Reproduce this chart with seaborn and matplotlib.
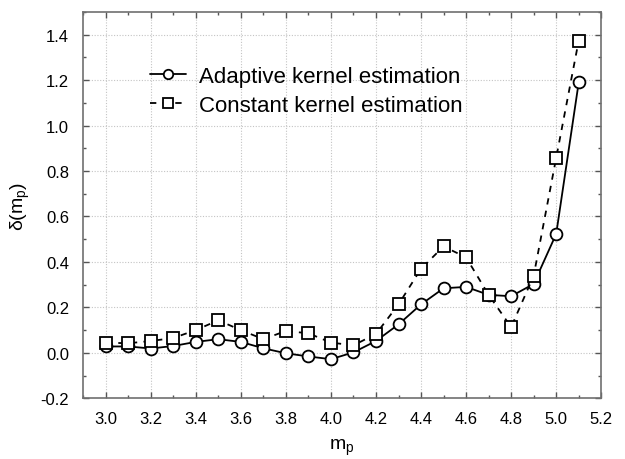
import matplotlib
matplotlib.use("Agg")
import matplotlib.pyplot as plt
from matplotlib.ticker import MultipleLocator, FormatStrFormatter
import seaborn as sns
import pandas as pd

m_p = [3.0, 3.1, 3.2, 3.3, 3.4, 3.5, 3.6, 3.7, 3.8, 3.9, 4.0,
       4.1, 4.2, 4.3, 4.4, 4.5, 4.6, 4.7, 4.8, 4.9, 5.0, 5.1]
adaptive = [0.028, 0.028, 0.019, 0.030, 0.048, 0.060, 0.048, 0.020, -0.002, -0.016, -0.028,
            0.002, 0.052, 0.125, 0.213, 0.284, 0.290, 0.255, 0.249, 0.303, 0.523, 1.190]
constant = [0.045, 0.042, 0.052, 0.065, 0.100, 0.143, 0.100, 0.060, 0.096, 0.086, 0.045,
            0.033, 0.083, 0.213, 0.370, 0.468, 0.420, 0.255, 0.113, 0.339, 0.858, 1.374]
labels = ["Adaptive kernel estimation", "Constant kernel estimation"]

sns.set_style("ticks")
plt.rcParams["font.family"] = ["Liberation Sans", "DejaVu Sans"]
plt.rcParams["mathtext.default"] = "regular"
plt.rcParams["text.color"] = "black"
plt.rcParams["axes.labelcolor"] = "black"
plt.rcParams["xtick.labelcolor"] = "black"
plt.rcParams["ytick.labelcolor"] = "black"

fig = plt.figure(figsize=(6.25, 4.6), dpi=100)
ax = fig.add_axes([0.133, 0.132, 0.829, 0.840])

df_a = pd.DataFrame({"m": m_p, "d": adaptive})
df_c = pd.DataFrame({"m": m_p, "d": constant})

sns.lineplot(data=df_a, x="m", y="d", ax=ax, color="black", lw=1.3,
             marker="o", markersize=8.5, markerfacecolor="white",
             markeredgecolor="black", markeredgewidth=1.3, label=labels[0], zorder=3)
sns.lineplot(data=df_c, x="m", y="d", ax=ax, color="black", lw=1.3,
             linestyle=(0, (3.5, 3.5)),
             marker="s", markersize=8.5, markerfacecolor="white",
             markeredgecolor="black", markeredgewidth=1.3, label=labels[1], zorder=4)

ax.set_xlim(2.9, 5.2)
ax.set_ylim(-0.2, 1.5)
ax.xaxis.set_major_locator(MultipleLocator(0.2))
ax.xaxis.set_minor_locator(MultipleLocator(0.1))
ax.yaxis.set_major_locator(MultipleLocator(0.2))
ax.yaxis.set_minor_locator(MultipleLocator(0.1))
ax.xaxis.set_major_formatter(FormatStrFormatter("%.1f"))
ax.yaxis.set_major_formatter(FormatStrFormatter("%.1f"))

ax.grid(True, which="major", linestyle=(0, (1, 1.5)), color="#c4c4c4", linewidth=0.8)
ax.tick_params(which="both", direction="in", top=True, right=True,
               color="#555555", labelsize=12)
ax.tick_params(which="major", length=4, width=1)
ax.tick_params(which="minor", length=2.5, width=1)
ax.tick_params(axis="x", pad=9)
ax.tick_params(axis="y", pad=10)
for s in ax.spines.values():
    s.set_color("#707070")
    s.set_linewidth(1.2)

ax.set_xlabel("m$_p$", fontsize=14, labelpad=8)
ax.set_ylabel("δ(m$_p$)", fontsize=14, labelpad=6)

ax.legend(loc="upper left", bbox_to_anchor=(0.13, 0.86), frameon=False,
          fontsize=16, borderpad=0, borderaxespad=0, handlelength=1.6,
          handletextpad=0.6, labelspacing=0.35, markerscale=0.8)

fig.savefig("out.png", dpi=100)
